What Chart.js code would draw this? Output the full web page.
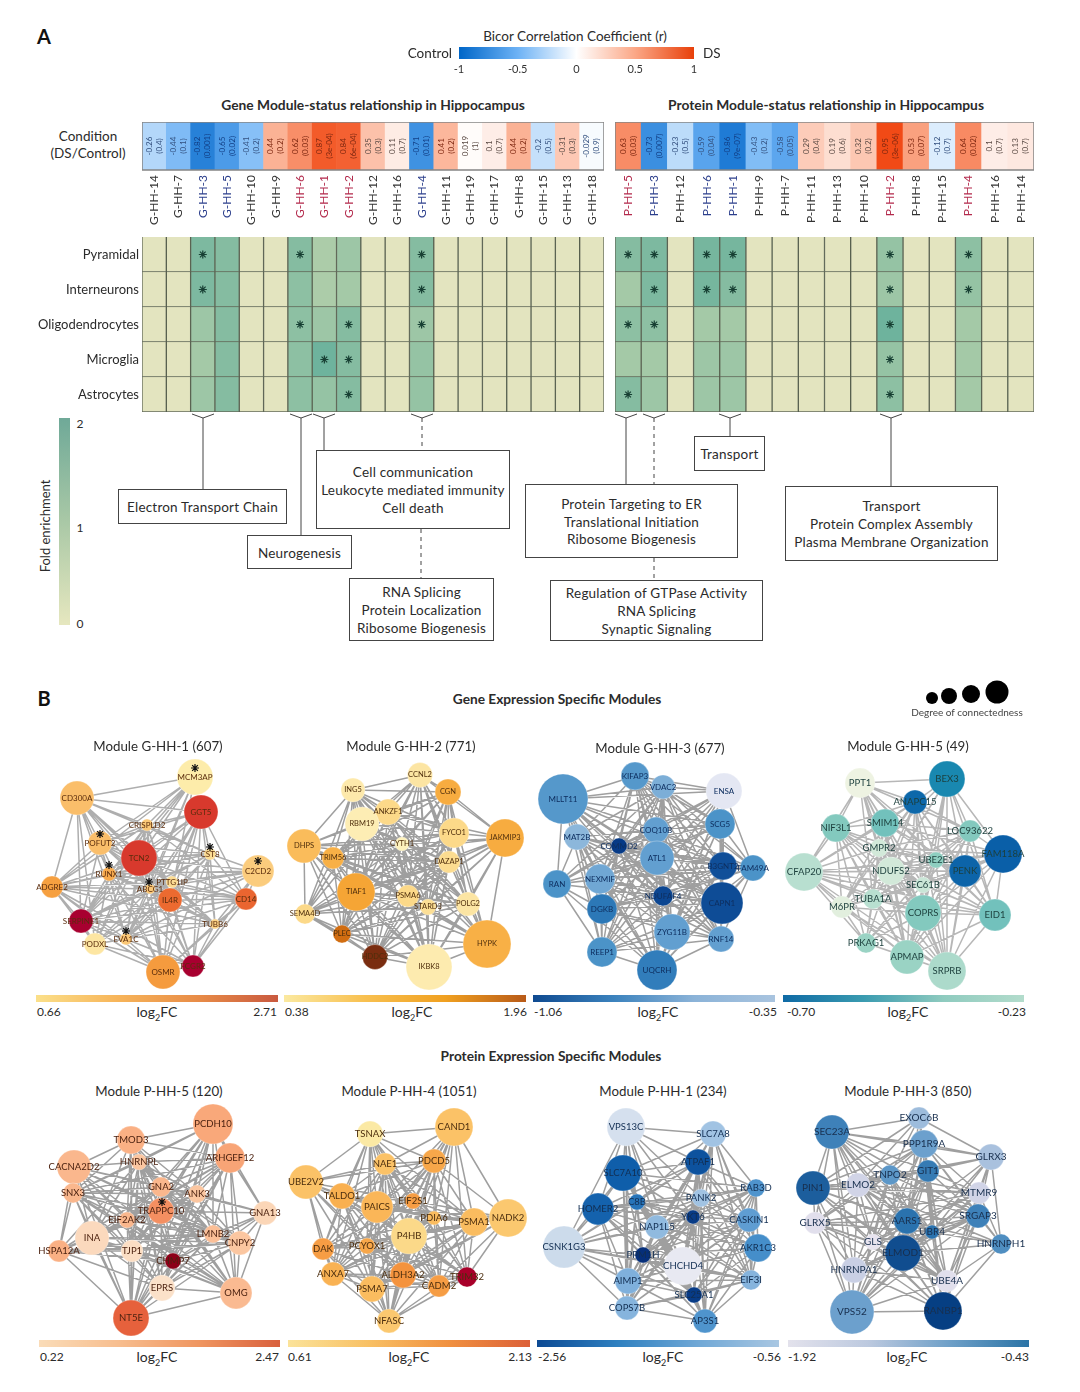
<!DOCTYPE html>
<html>
<head>
<meta charset="utf-8">
<title>Hippocampus modules</title>
<script src="https://cdn.jsdelivr.net/npm/chart.js@4/dist/chart.umd.min.js"></script>
<style>
body { margin: 0; background: #fff; font-family: Lato, "Open Sans", sans-serif; color: #2b2b2b; }
#page { position: relative; width: 1080px; height: 1392px; overflow: hidden; }
canvas { position: absolute; }
svg { position: absolute; left: 0; top: 0; }
.t { position: absolute; white-space: nowrap; line-height: 1; }
.box { position: absolute; box-sizing: border-box; border: 1.3px solid #444; background: #fff; display: flex; padding-top: 3px;
  flex-direction: column; justify-content: center; align-items: center; font-size: 13.5px; line-height: 17.7px; letter-spacing: .2px; }
sub { font-size: 9px; line-height: 0; }
</style>
</head>
<body>
<div id="page"></div>
<script>
// ******************* PANEL A DATA ********************
const geneModules = ["G-HH-14", "G-HH-7", "G-HH-3", "G-HH-5", "G-HH-10", "G-HH-9", "G-HH-6", "G-HH-1", "G-HH-2", "G-HH-12", "G-HH-16", "G-HH-4", "G-HH-11", "G-HH-19", "G-HH-17", "G-HH-8", "G-HH-15", "G-HH-13", "G-HH-18"];
const geneR = [-0.26, -0.44, -0.82, -0.65, -0.41, 0.44, 0.62, 0.87, 0.84, 0.35, 0.11, -0.71, 0.41, 0.019, 0.1, 0.44, -0.2, 0.31, -0.029];
const geneRText = ["-0.26", "-0.44", "-0.82", "-0.65", "-0.41", "0.44", "0.62", "0.87", "0.84", "0.35", "0.11", "-0.71", "0.41", "0.019", "0.1", "0.44", "-0.2", "-0.31", "-0.029"];
const geneP = ["(0.4)", "(0.1)", "(0.001)", "(0.02)", "(0.2)", "(0.2)", "(0.03)", "(3e-04)", "(6e-04)", "(0.3)", "(0.7)", "(0.01)", "(0.2)", "(1)", "(0.7)", "(0.2)", "(0.5)", "(0.3)", "(0.9)"];
const geneBlue = ["G-HH-3", "G-HH-5", "G-HH-4"];
const geneRed = ["G-HH-6", "G-HH-1", "G-HH-2"];

const protModules = ["P-HH-5", "P-HH-3", "P-HH-12", "P-HH-6", "P-HH-1", "P-HH-9", "P-HH-7", "P-HH-11", "P-HH-13", "P-HH-10", "P-HH-2", "P-HH-8", "P-HH-15", "P-HH-4", "P-HH-16", "P-HH-14"];
const protR = [0.63, -0.73, -0.23, -0.59, -0.86, -0.43, -0.58, 0.29, 0.19, 0.32, 0.95, 0.53, -0.12, 0.64, 0.1, 0.13];
const protRText = ["0.63", "-0.73", "-0.23", "-0.59", "-0.86", "-0.43", "-0.58", "0.29", "0.19", "0.32", "0.95", "0.53", "-0.12", "0.64", "0.1", "0.13"];
const protP = ["(0.03)", "(0.007)", "(0.5)", "(0.04)", "(9e-07)", "(0.2)", "(0.05)", "(0.4)", "(0.6)", "(0.2)", "(3e-06)", "(0.07)", "(0.7)", "(0.02)", "(0.7)", "(0.7)"];
const protBlue = ["P-HH-3", "P-HH-6", "P-HH-1"];
const protRed = ["P-HH-5", "P-HH-2", "P-HH-4"];

const cellTypes = ["Pyramidal", "Interneurons", "Oligodendrocytes", "Microglia", "Astrocytes"];

// fold enrichment, one row per cell type
const genePyramidal =   [0, 0, 1.7, 1.6, 0, 0, 1.6, 1.1, 1.3, 0, 0, 1.6, 0, 0, 0, 0, 0, 0, 0];
const geneInterneuron = [0, 0, 1.7, 1.6, 0, 0, 1.5, 1.1, 1.2, 0, 0, 1.6, 0, 0, 0, 0, 0, 0, 0];
const geneOligo =       [0, 0, 1.3, 1.6, 0, 0, 1.5, 1.3, 1.6, 0, 0, 1.3, 0, 0, 0, 0, 0, 0, 0];
const geneMicroglia =   [0, 0, 1.2, 1.6, 0, 0, 1.5, 1.9, 1.6, 0, 0, 1.4, 0, 0, 0, 0, 0, 0, 0];
const geneAstrocyte =   [0, 0, 1.3, 1.6, 0, 0, 1.5, 1.4, 1.6, 0, 0, 1.4, 0, 0, 0, 0, 0, 0, 0];
const protPyramidal =   [1.6, 1.7, 0, 1.8, 1.8, 0, 0, 0, 0, 0, 1.4, 0, 0, 1.5, 0, 0];
const protInterneuron = [1.2, 1.7, 0, 1.8, 1.6, 0, 0, 0, 0, 0, 1.3, 0, 0, 1.4, 0, 0];
const protOligo =       [1.5, 1.5, 0, 1.2, 1.2, 0, 0, 0, 0, 0, 1.9, 0, 0, 1.2, 0, 0];
const protMicroglia =   [1.2, 1.2, 0, 1.3, 1.3, 0, 0, 0, 0, 0, 1.4, 0, 0, 1.2, 0, 0];
const protAstrocyte =   [1.6, 1.3, 0, 1.3, 1.3, 0, 0, 0, 0, 0, 1.5, 0, 0, 1.2, 0, 0];

// significant cells: [module, row]
const geneStars = [["G-HH-3", 0], ["G-HH-3", 1], ["G-HH-6", 0], ["G-HH-6", 2], ["G-HH-1", 3], ["G-HH-2", 2], ["G-HH-2", 3], ["G-HH-2", 4], ["G-HH-4", 0], ["G-HH-4", 1], ["G-HH-4", 2]];
const protStars = [["P-HH-5", 0], ["P-HH-5", 2], ["P-HH-5", 4], ["P-HH-3", 0], ["P-HH-3", 1], ["P-HH-3", 2], ["P-HH-6", 0], ["P-HH-6", 1], ["P-HH-1", 0], ["P-HH-1", 1], ["P-HH-2", 0], ["P-HH-2", 1], ["P-HH-2", 2], ["P-HH-2", 3], ["P-HH-2", 4], ["P-HH-4", 0], ["P-HH-4", 1]];

// ******************* PANEL B DATA ********************
// x, y, r = connectedness, fc = log2FC
// edges: for node i, the letters of the later nodes it links to
const g1Names = ["MCM3AP", "CD300A", "GGT5", "CRISPLD2", "POFUT2", "TCN2", "CST8", "C2CD2", "RUNX1", "ADGRE2", "ABCG1", "PTTG1IP", "IL4R", "CD14", "SERPINE1", "TUBB6", "PODXL", "EVA1C", "OSMR", "FCGR2"];
const g1X = [195, 77, 201, 147, 100, 139, 210, 258, 109, 52, 150, 172, 170, 246, 81, 215, 95, 126, 163, 193];
const g1Y = [777, 798, 812, 825, 843, 858, 854, 871, 874, 887, 889, 882, 900, 899, 921, 924, 944, 939, 972, 966];
const g1R = [18, 17, 17, 6, 12, 18, 6, 16, 7, 11, 5, 6, 12, 11, 12, 5, 11, 6, 17, 11];
const g1FC = [0.70, 1.17, 2.30, 1.07, 1.17, 2.30, 0.87, 1.03, 1.38, 1.48, 1.07, 0.87, 1.89, 1.93, 2.71, 0.97, 0.76, 1.07, 1.52, 2.71];
const g1Edges = ["bdefijkmor", "cdefgijklmopqr", "defgiklmnoprst", "efgijkmnoqrst", "fgijklmnoprs", "ghijklmnopqrst", "hijkmnoprst", "iklmnprt", "jklmnopqrst", "klmopqrst", "lmnopqrst", "mnopqrs", "nopqrst", "oprst", "pqrst", "qrst", "rst", "st", "t", ""];
const g1StarX = [195, 100, 210, 258, 109, 149, 126];
const g1StarY = [768, 834, 847, 861, 865, 882, 931];

const g2Names = ["CCNL2", "ING5", "CGN", "ANKZF1", "RBM19", "FYCO1", "JAKMIP3", "DHPS", "CYTH1", "TRIM56", "DAZAP1", "TIAF1", "PSMA6", "STARD3", "POLG2", "SEMA4D", "PLEC", "HYPK", "HDDC2", "IKBK8"];
const g2X = [420, 353, 448, 388, 362, 454, 505, 304, 402, 333, 449, 356, 408, 428, 468, 305, 342, 487, 375, 429];
const g2Y = [775, 790, 792, 812, 824, 833, 838, 846, 844, 858, 862, 892, 896, 907, 904, 914, 934, 944, 957, 967];
const g2R = [12.5, 12, 13, 13, 17, 15, 19, 17, 7, 11, 11, 19, 11, 8, 12, 10, 9, 24, 12.5, 23];
const g2FC = [0.54, 0.49, 1.09, 0.70, 0.43, 0.70, 1.09, 0.93, 0.38, 1.04, 0.66, 1.17, 0.70, 0.62, 0.54, 0.70, 1.57, 1.04, 1.96, 0.46];
const g2Edges = ["bcdefgijklmnoqrt", "cdefhijklmnopqst", "defgijklmnorst", "efghijklmnopqrst", "fghijklmnopqrst", "ghijklmnopqrst", "ijklmnoqrst", "ijklmnopqst", "jklmnopqrst", "klmnopqrst", "lmnopqrst", "mnopqrst", "nopqrst", "opqrst", "pqrst", "qst", "rst", "st", "t", ""];

const g3Names = ["MLLT11", "KIFAP3", "VDAC2", "ENSA", "SCG5", "MAT2B", "COMMD2", "COQ10B", "ATL1", "B3GNT2", "FAM49A", "RAN", "NEXMIF", "NDUFAF4", "DGKB", "CAPN1", "ZYG11B", "RNF14", "REEP1", "UQCRH"];
const g3X = [563, 635, 663, 724, 720, 577, 619, 656, 657, 723, 753, 557, 600, 663, 602, 722, 672, 721, 602, 657];
const g3Y = [799, 776, 787, 791, 824, 837, 846, 830, 858, 866, 868, 884, 879, 896, 909, 903, 932, 939, 952, 970];
const g3R = [25, 14, 12, 18, 15, 13, 8, 13, 17, 14, 13, 14, 15, 10, 15, 21, 18, 13, 15, 20];
const g3FC = [-0.71, -0.71, -0.60, -0.35, -0.74, -0.56, -1.06, -0.67, -0.67, -0.99, -0.74, -0.74, -0.63, -1.02, -0.85, -1.00, -0.67, -0.67, -0.74, -0.83];
const g3Edges = ["bcdefghijlmnopqrst", "cdefghijkmnopqrt", "defghijklmnopqrst", "eghijkmnpqrst", "fghijkmnpqrt", "ghijklmnopqrst", "hijklmnopqrst", "ijklmnopqrst", "jklmnopqrst", "klmnopqrst", "mnopqrt", "mnopst", "nopqrst", "opqrst", "pqrst", "qrst", "rst", "st", "t", ""];

const g5Names = ["PPT1", "BEX3", "ANAPC15", "NIF3L1", "SMIM14", "LOC93622", "GMPR2", "FAM118A", "CFAP20", "UBE2E1", "NDUFS2", "PENK", "SEC61B", "TUBA1A", "M6PR", "COPRS", "EID1", "PRKAG1", "APMAP", "SRPRB"];
const g5X = [860, 947, 915, 836, 885, 970, 879, 1003, 804, 936, 891, 965, 923, 873, 842, 923, 995, 866, 907, 947];
const g5Y = [783, 779, 802, 828, 823, 831, 848, 854, 872, 860, 871, 871, 885, 899, 907, 913, 915, 943, 957, 971];
const g5R = [15, 18, 12, 14, 14, 11, 9, 19, 19, 8, 14, 16, 8, 10, 11, 18, 16, 10, 17, 19];
const g5FC = [-0.23, -0.61, -0.68, -0.44, -0.47, -0.44, -0.30, -0.70, -0.35, -0.42, -0.30, -0.69, -0.32, -0.35, -0.26, -0.44, -0.47, -0.40, -0.40, -0.37];
const g5Edges = ["bcdefgijklmnpqst", "cefghjklmnpqst", "defgijklmnopqrst", "egiklmnoprst", "fghijklmnoprst", "ghjklmnpqst", "hijklmnopqrst", "jklmnpqst", "jklmnopqrst", "klmnopqrst", "lmnopqrst", "mnopqst", "nopqrst", "opqrst", "prst", "qrst", "st", "st", "t", ""];

const p5Names = ["PCDH10", "TMOD3", "ARHGEF12", "CACNA2D2", "HNRNPL", "SNX3", "GNA2", "ANK3", "TRAPPC10", "GNA13", "EIF2AK2", "LMNB2", "INA", "CNPY2", "HSPA12A", "TJP1", "CHMP7", "EPRS", "OMG", "NT5E"];
const p5X = [213, 131, 230, 74, 139, 73, 161, 197, 161, 265, 127, 213, 92, 240, 59, 132, 173, 162, 236, 131];
const p5Y = [1124, 1140, 1158, 1167, 1162, 1193, 1187, 1194, 1211, 1213, 1220, 1234, 1238, 1243, 1251, 1251, 1261, 1288, 1293, 1318];
const p5R = [20, 14, 15, 17, 8, 10, 10, 9, 13, 12, 8, 9, 17, 12, 11, 11, 8, 13, 16, 18];
const p5FC = [1.12, 1.00, 1.16, 0.90, 0.67, 0.90, 0.90, 0.67, 1.35, 0.45, 0.90, 0.78, 0.40, 0.67, 1.00, 0.33, 2.47, 0.29, 0.85, 1.80];
const p5Edges = ["bcefghijklpqrst", "cdefghiklmpqrst", "efghijklmnpqrst", "efghklmnopqst", "fghiklmnopqrst", "ghiklmnopqrst", "hijklmnopqrst", "ijklmnopqrst", "jklmnopqrst", "lnqrs", "lmnopqrst", "mnopqrst", "nopqrst", "opqrst", "pqrt", "qrst", "rst", "st", "t", ""];
const p5StarX = [162];
const p5StarY = [1202];

const p4Names = ["CAND1", "TSNAX", "NAE1", "PDCD5", "UBE2V2", "TALDO1", "PAICS", "EIF2S1", "PDIA6", "PSMA1", "NADK2", "P4HB", "DAK", "PCYOX1", "ANXA7", "ALDH3A2", "TRIM32", "CADM2", "PSMA7", "NFASC"];
const p4X = [454, 370, 385, 434, 306, 342, 377, 413, 434, 474, 508, 409, 323, 367, 333, 403, 467, 439, 372, 389];
const p4Y = [1127, 1134, 1164, 1161, 1182, 1196, 1207, 1201, 1218, 1222, 1218, 1236, 1249, 1246, 1274, 1275, 1277, 1286, 1289, 1321];
const p4R = [19, 13, 11, 12, 17, 13, 16, 8, 7, 14, 19, 18, 11, 8, 12, 13, 10, 11, 13, 12];
const p4FC = [0.99, 0.61, 0.99, 1.29, 0.99, 1.22, 1.14, 1.37, 1.07, 1.07, 0.91, 0.76, 1.37, 1.29, 1.19, 1.45, 2.13, 1.37, 1.07, 0.91];
const p4Edges = ["bcdghijklnpqr", "cdefghijlmnops", "defghijlmnopqrst", "efghijklmnopqrst", "fghlmnops", "ghijlmnopqrst", "hijklmnopqrst", "ijklmnpqrst", "jklmnopqrst", "klmnopqrst", "lpqrs", "mnopqrst", "nopst", "opqrst", "pqrst", "qrst", "rst", "st", "t", ""];

const p1Names = ["VPS13C", "SLC7A8", "ATPAF1", "SLC7A10", "RAB3D", "C8B", "PANK2", "HOMER2", "YKT6", "CASKIN1", "NAP1L5", "CSNK1G3", "AKR1C3", "PPM1H", "CHCHD4", "AIMP1", "EIF3I", "SLC25A1", "COPS7B", "AP3S1"];
const p1X = [626, 713, 698, 623, 756, 637, 701, 598, 693, 749, 657, 564, 758, 643, 683, 628, 751, 694, 627, 705];
const p1Y = [1127, 1134, 1162, 1173, 1188, 1202, 1198, 1209, 1217, 1220, 1227, 1247, 1248, 1255, 1266, 1281, 1280, 1295, 1308, 1321];
const p1R = [19, 13, 13, 18, 9, 8, 9, 16, 7, 12, 12, 21, 14, 8, 19, 13, 10, 8, 12, 12];
const p1FC = [-0.76, -1.16, -2.26, -2.16, -1.66, -1.96, -1.16, -2.12, -2.46, -1.56, -1.26, -0.86, -1.72, -2.56, -0.56, -1.36, -1.32, -2.46, -1.32, -1.66];
const p1Edges = ["bcdfghiklnoprst", "cdefgijkmnoqrt", "defghijklmnopqrst", "efghiklnoprst", "fgijkmnoqrt", "ghijklmnopqrst", "hijklmnopqrst", "iklnoprst", "jklmnopqrst", "kmnopqrst", "lmnopqrst", "nopqrs", "nopqrt", "opqrst", "pqrst", "qrst", "rst", "st", "t", ""];

const p3Names = ["EXOC6B", "SEC23A", "PPP1R9A", "GLRX3", "GIT1", "TNPO2", "ELMO2", "PIN1", "MTMR9", "GLRX5", "AARS1", "SRGAP3", "UBR4", "GLS", "HNRNPH1", "ELMOD1", "HNRNPA1", "UBE4A", "VPS52", "RANBP1"];
const p3X = [919, 832, 924, 991, 928, 890, 858, 813, 979, 815, 907, 978, 932, 873, 1001, 903, 854, 947, 852, 943];
const p3Y = [1118, 1132, 1144, 1157, 1171, 1175, 1185, 1188, 1193, 1223, 1221, 1216, 1232, 1242, 1244, 1253, 1270, 1281, 1312, 1311];
const p3R = [11, 17, 14, 13, 11, 10, 12, 17, 11, 11, 13, 12, 7, 8, 10, 18, 13, 11, 22, 19];
const p3FC = [-1.32, -0.85, -1.10, -1.40, -0.80, -1.03, -1.70, -0.61, -1.70, -1.85, -0.73, -0.85, -0.73, -1.92, -0.95, -0.51, -1.62, -1.85, -1.10, -0.43];
const p3Edges = ["bcdefghkmpr", "cdefghjklmnpqrs", "defghijklmnoprst", "efgiklmoprt", "fghiklmnprst", "ghijklmnpqrst", "hijklmnopqrst", "ijkmnpqrst", "jklmnoprst", "kmnpqrst", "lmnopqrst", "mnopqrst", "nopqrst", "pqrst", "prt", "qrst", "rst", "st", "t", ""];

// ******************* HELPERS ********************
const page = document.getElementById("page");
Chart.defaults.font.family = "Lato";
Chart.defaults.animation = false;
Chart.defaults.events = [];
Chart.defaults.responsive = false;
Chart.defaults.layout.autoPadding = false;
Chart.defaults.plugins.legend.display = false;
Chart.defaults.plugins.tooltip.enabled = false;

function hexToRgb(hex) {
    return [1, 3, 5].map((i) => parseInt(hex.slice(i, i + 2), 16));
}

// stops are evenly spaced, t goes from 0 to 1
function ramp(stops, t) {
    t = Math.max(0, Math.min(1, t)) * (stops.length - 1);
    const i = Math.min(Math.floor(t), stops.length - 2);
    const a = hexToRgb(stops[i]);
    const b = hexToRgb(stops[i + 1]);
    const c = a.map((v, k) => Math.round(v + (b[k] - v) * (t - i)));
    return `rgb(${c[0]},${c[1]},${c[2]})`;
}

const corrStops = ["#0066c8", "#6db2f5", "#ffffff", "#fba786", "#f0400a"];
const foldStops = ["#e3e4bf", "#b4cfaa", "#66b09b"];
const corrColor = (r) => ramp(corrStops, (r + 1) / 2);
const foldColor = (f) => ramp(foldStops, f / 2);

function addCanvas(left, top, width, height) {
    const c = document.createElement("canvas");
    c.width = width;
    c.height = height;
    c.style.left = left + "px";
    c.style.top = top + "px";
    page.appendChild(c);
    return c;
}

function addText(html, x, y, opts = {}) {
    const d = document.createElement("div");
    d.className = "t";
    d.innerHTML = html;
    d.style.left = x + "px";
    d.style.top = y + 0.7 + "px";
    d.style.fontSize = (opts.size || 13) + "px";
    if (opts.bold) d.style.fontWeight = "700";
    if (opts.color) d.style.color = opts.color;
    const dx = opts.align === "r" ? "-100%" : opts.align === "l" ? "0" : "-50%";
    d.style.transform = `translate(${dx},-50%)` + (opts.rotate ? ` rotate(${opts.rotate}deg)` : "");
    page.appendChild(d);
}

// ******************* CORRELATION STRIPS ********************
function corrChart(left, width, modules, rs, rText, ps, blue, red) {
    const cellText = {
        id: "cellText",
        afterDatasetsDraw(chart) {
            const { ctx, chartArea } = chart;
            const mid = (chartArea.top + chartArea.bottom) / 2;
            // frame round the strip
            ctx.save();
            ctx.strokeStyle = "#858585";
            ctx.lineWidth = 1.5;
            ctx.strokeRect(chartArea.left, chartArea.top, chartArea.width, chartArea.height);
            ctx.restore();
            modules.forEach((m, i) => {
                const x = chart.scales.x.getPixelForValue(i);
                ctx.save();
                ctx.translate(x, mid);
                ctx.rotate(-Math.PI / 2);
                ctx.textAlign = "center";
                ctx.textBaseline = "middle";
                ctx.font = "8px Lato";
                const r = rs[i];
                ctx.fillStyle = r < -0.6 ? "#123f86" : r < 0 ? "#33507f" : r > 0.4 ? "#7d2710" : "#5a4a44";
                ctx.fillText(rText[i], 0, -5);
                ctx.fillText(ps[i], 0, 5);
                ctx.restore();
            });
        },
    };
    new Chart(addCanvas(left, 122, width, 108), {
        type: "bar",
        data: {
            labels: modules,
            datasets: [{
                data: modules.map(() => [0, 1]),
                backgroundColor: rs.map(corrColor),
                barPercentage: 1,
                categoryPercentage: 1,
            }],
        },
        options: {
            layout: { padding: 0 },
            scales: {
                x: {
                    grid: { display: false, drawTicks: false },
                    border: { display: false },
                    afterFit: (s) => { s.height = 60; s.paddingLeft = 0; s.paddingRight = 0; },
                    ticks: {
                        autoSkip: false,
                        minRotation: 90,
                        maxRotation: 90,
                        padding: 5,
                        font: { size: 12 },
                        color: (c) => {
                            const m = modules[c.index];
                            return blue.includes(m) ? "#2c3f8c" : red.includes(m) ? "#b32a4c" : "#333";
                        },
                    },
                },
                y: { display: false, min: 0, max: 1 },
            },
        },
        plugins: [cellText],
    });
}

corrChart(142, 462, geneModules, geneR, geneRText, geneP, geneBlue, geneRed);
corrChart(615, 419, protModules, protR, protRText, protP, protBlue, protRed);

// ******************* ENRICHMENT HEATMAPS ********************
function heatChart(left, width, axisWidth, modules, rows, stars) {
    const datasets = rows.map((row, i) => ({
        type: "bar",
        data: modules.map(() => [i, i + 1]),
        backgroundColor: row.map(foldColor),
        borderColor: "rgba(60,70,50,0.8)",
        borderWidth: 1,
        barPercentage: 1,
        categoryPercentage: 1,
        grouped: false,
        order: 2,
    }));
    datasets.push({
        type: "line",
        showLine: false,
        data: stars.map((s) => ({ x: s[0], y: s[1] + 0.5 })),
        pointStyle: "star",
        pointRadius: 4,
        pointBorderWidth: 1.2,
        pointBorderColor: "#173f33",
        order: 1,
    });
    new Chart(addCanvas(left, 237, width, 175), {
        type: "bar",
        data: { labels: modules, datasets },
        options: {
            layout: { padding: 0 },
            scales: {
                x: { display: false },
                y: {
                    display: axisWidth > 0,
                    min: 0,
                    max: 5,
                    reverse: true,
                    grid: { display: false, drawTicks: false },
                    border: { display: false },
                    afterBuildTicks: (s) => { s.ticks = cellTypes.map((c, i) => ({ value: i + 0.5 })); },
                    afterFit: (s) => { s.width = axisWidth; s.paddingTop = 0; s.paddingBottom = 0; },
                    ticks: {
                        autoSkip: false,
                        padding: 3,
                        font: { size: 13 },
                        color: "#2b2b2b",
                        callback: (v) => cellTypes[Math.floor(v)],
                    },
                },
            },
        },
    });
}

heatChart(0, 604, 142, geneModules, [genePyramidal, geneInterneuron, geneOligo, geneMicroglia, geneAstrocyte], geneStars);
heatChart(615, 419, 0, protModules, [protPyramidal, protInterneuron, protOligo, protMicroglia, protAstrocyte], protStars);

// ******************* COLOUR BARS ********************
function colorBar(left, top, width, height, min, max, colors, vertical, showAxis) {
    const side = showAxis ? 15 : 0;
    new Chart(addCanvas(left - side, top, width + side * 2, height), {
        type: "bar",
        data: {
            labels: [""],
            datasets: [{
                data: [[min, max]],
                barPercentage: 1,
                categoryPercentage: 1,
                backgroundColor: (c) => {
                    const a = c.chart.chartArea;
                    if (!a) return colors[0];
                    const g = vertical
                        ? c.chart.ctx.createLinearGradient(0, a.bottom, 0, a.top)
                        : c.chart.ctx.createLinearGradient(a.left, 0, a.right, 0);
                    colors.forEach((col, i) => g.addColorStop(i / (colors.length - 1), col));
                    return g;
                },
            }],
        },
        options: {
            indexAxis: vertical ? "x" : "y",
            layout: { padding: { left: side, right: side } },
            scales: {
                x: vertical ? { display: false } : {
                    display: !!showAxis,
                    min,
                    max,
                    grid: { display: false, tickLength: 3, tickColor: "#666" },
                    border: { display: false },
                    afterFit: (s) => { if (showAxis) { s.height = 20; s.paddingLeft = 0; s.paddingRight = 0; } },
                    ticks: { stepSize: 0.5, padding: 1, maxRotation: 0, font: { size: 11 }, color: "#333", callback: (v) => String(v) },
                },
                y: vertical ? { display: false, min, max } : { display: false },
            },
        },
    });
}

colorBar(459, 47, 235, 32, -1, 1, ["#0066c8", "#6db2f5", "#ffffff", "#fba786", "#e8400a"], false, true);
colorBar(59, 418, 11, 207, 0, 2, ["#e6e7bf", "#a9c8a6", "#6fa998"], true);

// ******************* NETWORKS ********************
function networkChart(box, names, xs, ys, rs, fcs, edges, stops, fcMin, fcMax, labelSize, labelColor, edgeColor, starX, starY) {
    const edgePts = [];
    edges.forEach((linked, i) => {
        for (const ch of linked) {
            const j = ch.charCodeAt(0) - 97;
            edgePts.push({ x: xs[i], y: ys[i] }, { x: xs[j], y: ys[j] }, { x: xs[j], y: NaN });
        }
    });
    const nodeLabels = {
        id: "nodeLabels",
        afterDatasetsDraw(chart) {
            const { ctx } = chart;
            const meta = chart.getDatasetMeta(1);
            ctx.save();
            ctx.textAlign = "center";
            ctx.textBaseline = "middle";
            ctx.font = labelSize + "px Lato";
            ctx.fillStyle = labelColor;
            meta.data.forEach((el, i) => ctx.fillText(names[i], el.x, el.y));
            ctx.restore();
        },
    };
    const datasets = [
        {
            type: "line",
            data: edgePts,
            borderColor: edgeColor,
            borderWidth: 1.5,
            pointRadius: 0,
            tension: 0,
            spanGaps: false,
            order: 3,
        },
        {
            type: "bubble",
            data: names.map((n, i) => ({ x: xs[i], y: ys[i], r: rs[i] })),
            backgroundColor: fcs.map((f) => ramp(stops, (f - fcMin) / (fcMax - fcMin))),
            borderColor: "rgba(255,255,255,0.5)",
            borderWidth: 0.6,
            clip: false,
            order: 2,
        },
    ];
    if (starX) {
        datasets.push({
            type: "line",
            showLine: false,
            data: starX.map((x, i) => ({ x, y: starY[i] })),
            pointStyle: "star",
            pointRadius: 4,
            pointBorderWidth: 1.2,
            pointBorderColor: "#111",
            order: 1,
        });
    }
    new Chart(addCanvas(box[0], box[1], box[2] - box[0], box[3] - box[1]), {
        type: "bubble",
        data: { datasets },
        options: {
            layout: { padding: 0 },
            scales: {
                x: { type: "linear", display: false, min: box[0], max: box[2] },
                y: { type: "linear", display: false, min: box[1], max: box[3], reverse: true },
            },
        },
        plugins: [nodeLabels],
    });
}

const grey = "rgba(142,142,142,0.85)";
networkChart([30, 750, 283, 995], g1Names, g1X, g1Y, g1R, g1FC, g1Edges,
    ["#fdf0b0", "#fbc877", "#f6a040", "#ec6a30", "#d8392d", "#a80030"], 0.66, 2.71, 8, "#5a2c0c", "rgba(160,160,160,0.85)", g1StarX, g1StarY);
networkChart([283, 750, 533, 995], g2Names, g2X, g2Y, g2R, g2FC, g2Edges,
    ["#fdf1bc", "#fcd98a", "#f9b24a", "#f09820", "#c8600c", "#7a2d10"], 0.38, 1.96, 7.5, "#4f2e0c", grey);
networkChart([533, 750, 780, 995], g3Names, g3X, g3Y, g3R, g3FC, g3Edges,
    ["#063a86", "#1a65ac", "#3f8cc4", "#6ea6d4", "#a7c6e2", "#e4e7f3"], -1.06, -0.35, 8, "#0e2f60", grey);
networkChart([780, 750, 1030, 995], g5Names, g5X, g5Y, g5R, g5FC, g5Edges,
    ["#0a5fa8", "#1a8ab0", "#5bb5b8", "#8fcfc0", "#c8e5d6", "#eef3e2"], -0.70, -0.23, 9.5, "#1c3f3c", "rgba(170,170,170,0.85)");
networkChart([30, 1100, 283, 1340], p5Names, p5X, p5Y, p5R, p5FC, p5Edges,
    ["#fbe6d0", "#fbc6a0", "#f9a87a", "#f0784a", "#dc4b2e", "#8c0018"], 0.22, 2.47, 9.5, "#4c2210", grey, p5StarX, p5StarY);
networkChart([283, 1100, 533, 1340], p4Names, p4X, p4Y, p4R, p4FC, p4Edges,
    ["#fbe9a4", "#fbc86e", "#f9b050", "#f28a38", "#e4602e", "#a8002a"], 0.61, 2.13, 9.5, "#4c2e0e", grey);
networkChart([533, 1100, 783, 1340], p1Names, p1X, p1Y, p1R, p1FC, p1Edges,
    ["#062f7a", "#0f5eaa", "#3f8ac8", "#7fb0dc", "#c2d6e9", "#e8e9f2"], -2.56, -0.56, 9.5, "#122e52", grey);
networkChart([783, 1100, 1035, 1340], p3Names, p3X, p3Y, p3R, p3FC, p3Edges,
    ["#e8e4ef", "#c9cfe4", "#9ebcdc", "#5b97c8", "#2a72ae", "#063f83"], -1.92, -0.43, 10, "#182f4e", grey);

// degree of connectedness key
const degreeX = [932, 949, 971, 997];
const degreeY = [698, 696, 694, 692];
const degreeR = [6, 8, 9, 11.5];
new Chart(addCanvas(915, 675, 100, 32), {
    type: "bubble",
    data: { datasets: [{ data: degreeX.map((x, i) => ({ x, y: degreeY[i], r: degreeR[i] })), backgroundColor: "#000", borderWidth: 0 }] },
    options: {
        layout: { padding: 0 },
        scales: {
            x: { type: "linear", display: false, min: 915, max: 1015 },
            y: { type: "linear", display: false, min: 675, max: 707, reverse: true },
        },
    },
});

// log2FC colour bars
const fcBars = [
    [36, 995, 242, 0.66, 2.71, ["#fbe08a", "#f7b55a", "#e88c47", "#c9593f"], "0.66", "2.71", 37, 157, 277, 1011],
    [284, 995, 242, 0.38, 1.96, ["#fbe9a0", "#f8c050", "#f0a020", "#b85a18"], "0.38", "1.96", 285, 412, 527, 1011],
    [533, 995, 242, -1.06, -0.35, ["#0f4a90", "#3b82bd", "#8bb3d8", "#a9c4df"], "-1.06", "-0.35", 534, 658, 777, 1011],
    [783, 995, 241, -0.7, -0.23, ["#0f6aa5", "#3a9bb0", "#8fcbbf", "#b3dccc"], "-0.70", "-0.23", 787, 908, 1026, 1011],
    [39, 1340, 241, 0.22, 2.47, ["#fadcb8", "#f7bd8e", "#ef9560", "#d9603d"], "0.22", "2.47", 40, 157, 279, 1356],
    [288, 1340, 242, 0.61, 2.13, ["#fbe39a", "#f8c064", "#f09040", "#dc6038"], "0.61", "2.13", 288, 409, 532, 1356],
    [537, 1340, 242, -2.56, -0.56, ["#0c4a94", "#2f80c0", "#70a8d6", "#a9c7e2"], "-2.56", "-0.56", 538, 663, 781, 1356],
    [788, 1340, 241, -1.92, -0.43, ["#e3e2ec", "#bcc9df", "#6fa0c8", "#2b74a6"], "-1.92", "-0.43", 788, 907, 1029, 1356],
];
fcBars.forEach((b) => {
    colorBar(b[0], b[1], b[2], 7, b[3], b[4], b[5], false, false);
    addText(b[6], b[8], b[11], { align: "l", size: 12 });
    addText("log<sub>2</sub>FC", b[9], b[11], { size: 14 });
    addText(b[7], b[10], b[11], { align: "r", size: 12 });
});

// ******************* TEXT ********************
addText("A", 44, 35, { bold: true, size: 20, color: "#111" });
addText("B", 44, 697, { bold: true, size: 20, color: "#111" });
addText("Bicor Correlation Coefficient (r)", 575, 36, { size: 13.5 });
addText("Control", 452, 53, { align: "r", size: 13.5 });
addText("DS", 703, 53, { align: "l", size: 13.5 });
addText("Gene Module-status relationship in Hippocampus", 373, 104, { bold: true, size: 13.8 });
addText("Protein Module-status relationship in Hippocampus", 826, 104, { bold: true, size: 13.8 });
addText("Condition", 88, 136, { size: 13.5 });
addText("(DS/Control)", 88, 153, { size: 13.5 });
addText("Fold enrichment", 45, 525, { size: 13, rotate: -90 });
addText("2", 80, 423, { size: 12 });
addText("1", 80, 527, { size: 12 });
addText("0", 80, 623, { size: 12 });
addText("Gene Expression Specific Modules", 557, 698, { bold: true, size: 13.7 });
addText("Protein Expression Specific Modules", 551, 1055, { bold: true, size: 13.7 });
addText("Degree of connectedness", 967, 711, { size: 10, color: "#444" });
addText("Module G-HH-1 (607)", 158, 746, { size: 13.3 });
addText("Module G-HH-2 (771)", 411, 746, { size: 13.3 });
addText("Module G-HH-3 (677)", 660, 748, { size: 13.3 });
addText("Module G-HH-5 (49)", 908, 746, { size: 13.3 });
addText("Module P-HH-5 (120)", 159, 1091, { size: 13.3 });
addText("Module P-HH-4 (1051)", 409, 1091, { size: 13.3 });
addText("Module P-HH-1 (234)", 663, 1091, { size: 13.3 });
addText("Module P-HH-3 (850)", 908, 1091, { size: 13.3 });

// ******************* ANNOTATION BOXES ********************
const solidLinks = [[203, 418, 489], [301, 418, 535], [324, 418, 450], [626, 418, 484], [730, 418, 436], [891, 418, 486]];
const dashedLinks = [[422, 418, 450], [421, 529, 578], [654, 418, 484], [654, 558, 580]];
const brackets = [203, 301, 324, 422, 626, 654, 730, 891];
let svg = '<svg width="1080" height="700" fill="none" stroke="#444" stroke-width="1">';
solidLinks.forEach((l) => { svg += `<line x1="${l[0]}" y1="${l[1]}" x2="${l[0]}" y2="${l[2]}"/>`; });
dashedLinks.forEach((l) => { svg += `<line x1="${l[0]}" y1="${l[1]}" x2="${l[0]}" y2="${l[2]}" stroke-dasharray="4 4"/>`; });
brackets.forEach((x) => { svg += `<polyline points="${x - 11},414 ${x},418 ${x + 11},414"/>`; });
svg += "</svg>";
page.insertAdjacentHTML("beforeend", svg);

const boxes = [
    [118, 489, 169, 35, ["Electron Transport Chain"]],
    [247, 535, 105, 34, ["Neurogenesis"]],
    [316, 450, 194, 79, ["Cell communication", "Leukocyte mediated immunity", "Cell death"]],
    [349, 578, 145, 63, ["RNA Splicing", "Protein Localization", "Ribosome Biogenesis"]],
    [525, 484, 213, 74, ["Protein Targeting to ER", "Translational Initiation", "Ribosome Biogenesis"]],
    [550, 580, 213, 61, ["Regulation of GTPase Activity", "RNA Splicing", "Synaptic Signaling"]],
    [694, 436, 71, 35, ["Transport"]],
    [785, 486, 213, 75, ["Transport", "Protein Complex Assembly", "Plasma Membrane Organization"]],
];
boxes.forEach((b) => {
    const d = document.createElement("div");
    d.className = "box";
    d.style.cssText = `left:${b[0]}px;top:${b[1]}px;width:${b[2]}px;height:${b[3]}px`;
    d.innerHTML = b[4].map((s) => `<div>${s}</div>`).join("");
    page.appendChild(d);
});
</script>
</body>
</html>
